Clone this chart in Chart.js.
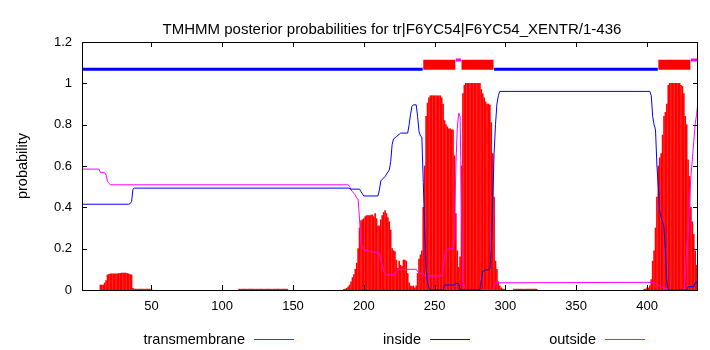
<!DOCTYPE html>
<html>
<head>
<meta charset="utf-8">
<script src="https://cdn.jsdelivr.net/npm/chart.js@4.4.0/dist/chart.umd.min.js"></script>
<style>
  body { margin: 0; background: #fff; }
  #wrap { width: 710px; height: 350px; }
</style>
</head>
<body>
<div id="wrap"><canvas id="tmhmm" width="710" height="350"></canvas></div>
<script>
const seqLength = 436;
const xTicks = [50, 100, 150, 200, 250, 300, 350, 400];
const yTicks = [0, 0.2, 0.4, 0.6, 0.8, 1, 1.2];
const chartTitle = 'TMHMM posterior probabilities for tr|F6YC54|F6YC54_XENTR/1-436';
const seriesNames = ['transmembrane', 'inside', 'outside'];

// transmembrane : [premier residu, valeurs par residu]
const tmRuns = [
  [14, [0.024, 0.024, 0.024, 0.034, 0.045, 0.073, 0.076, 0.078, 0.078, 0.078, 0.078, 0.078, 0.078, 0.08,
        0.08, 0.082, 0.082, 0.082, 0.082, 0.08, 0.078, 0.075, 0.073, 0.008]],
  [38, [0.004, 0.004, 0.004, 0.004, 0.004, 0.004, 0.004, 0.004, 0.004, 0.004, 0.004, 0.004, 0.004]],
  [112, [0.004, 0.004, 0.004, 0.004, 0.004, 0.004, 0.004, 0.004, 0.004, 0.004, 0.004, 0.004,
         0.004, 0.004, 0.004, 0.004, 0.004, 0.004, 0.004, 0.004, 0.004, 0.004, 0.004, 0.004,
         0.004, 0.004, 0.004, 0.004, 0.004, 0.004, 0.004, 0.004, 0.004, 0.004, 0.004]],
  [186, [0.003, 0.005, 0.008, 0.015, 0.024, 0.04, 0.06, 0.075, 0.1, 0.13,
         0.2, 0.3, 0.335, 0.34, 0.345, 0.355, 0.36, 0.36, 0.36, 0.362,
         0.363, 0.355, 0.37, 0.345, 0.31, 0.31, 0.34, 0.36, 0.375, 0.384,
         0.37, 0.35, 0.33, 0.29, 0.2, 0.19, 0.186, 0.145, 0.105, 0.14,
         0.12, 0.113, 0.145, 0.145, 0.14, 0.08, 0.035, 0.02, 0.016, 0.02,
         0.01, 0.02, 0.08, 0.15, 0.17, 0.19, 0.4, 0.6, 0.84, 0.905,
         0.93, 0.94, 0.94, 0.94, 0.94, 0.94, 0.94, 0.94, 0.94, 0.93,
         0.9, 0.82, 0.8, 0.79, 0.78, 0.78, 0.775, 0.775, 0.65, 0.37,
         0.19, 0.11, 0.16, 0.6, 0.95, 0.99, 1, 1, 1, 1,
         1, 1, 1, 1, 1, 1, 1, 0.97, 0.95, 0.93,
         0.91, 0.9, 0.9, 0.895, 0.81, 0.66, 0.45, 0.14, 0.1, 0.04,
         0.02, 0.01, 0.005, 0.003]],
  [306, [0.004, 0.004, 0.004, 0.004, 0.004, 0.004, 0.004, 0.004, 0.004, 0.004, 0.004, 0.004,
         0.004, 0.004, 0.004, 0.004, 0.004]],
  [398, [0.004, 0.004, 0.01, 0.01, 0.02, 0.05, 0.14, 0.19, 0.3, 0.45,
         0.6, 0.64, 0.66, 0.75, 0.84, 0.86, 0.9, 0.99, 1, 1,
         1, 1, 1, 1, 1, 1, 0.99, 0.985, 0.95, 0.84,
         0.8, 0.63, 0.55, 0.4, 0.33, 0.27, 0.19, 0.12, 0.08]]
];

// inside : [residu, probabilite]
const insideProb = [
  [1, 0.415], [34, 0.415], [35, 0.418], [36, 0.428], [37, 0.488], [38, 0.493], [189, 0.493],
  [191, 0.488], [197, 0.488], [198, 0.476], [200, 0.455], [210, 0.455], [211, 0.484], [212, 0.528],
  [215, 0.549], [218, 0.581], [219, 0.622], [220, 0.703], [221, 0.731], [223, 0.742], [226, 0.759],
  [231, 0.759], [232, 0.8], [233, 0.85], [234, 0.888], [235, 0.896], [237, 0.896], [238, 0.84],
  [239, 0.767], [240, 0.745], [241, 0.74], [242, 0.52], [243, 0.3], [244, 0.1], [245, 0.035],
  [246, 0.01], [247, 0], [256, 0], [257, 0.024], [264, 0.024], [265, 0.032], [267, 0.032],
  [268, 0], [282, 0], [283, 0.048], [284, 0.089], [286, 0.097], [289, 0.1], [290, 0.194],
  [291, 0.42], [292, 0.66], [293, 0.8], [294, 0.9], [295, 0.94], [296, 0.961], [402, 0.961],
  [403, 0.94], [404, 0.84], [405, 0.8], [406, 0.775], [407, 0.6], [408, 0.5], [409, 0.38],
  [410, 0.35], [411, 0.33], [412, 0.3], [413, 0.19], [414, 0.04], [415, 0], [428, 0],
  [429, 0.016], [433, 0.016], [434, 0.034], [436, 0.04]
];

// outside : [residu, probabilite]
const outsideProb = [
  [1, 0.585], [13, 0.585], [14, 0.568], [17, 0.568], [18, 0.557], [19, 0.525], [20, 0.517],
  [21, 0.509], [189, 0.509], [190, 0.5], [191, 0.485], [192, 0.476], [193, 0.468], [194, 0.46],
  [195, 0.444], [196, 0.44], [197, 0.339], [198, 0.226], [199, 0.21], [200, 0.194], [205, 0.186],
  [211, 0.178], [212, 0.145], [213, 0.12], [214, 0.09], [215, 0.081], [216, 0.073], [222, 0.073],
  [223, 0.085], [224, 0.1], [237, 0.1], [238, 0.089], [240, 0.081], [242, 0.078], [243, 0.068],
  [255, 0.068], [256, 0.097], [257, 0.161], [258, 0.186], [260, 0.2], [263, 0.2], [264, 0.25],
  [265, 0.6], [266, 0.78], [267, 0.856], [268, 0.84], [269, 0.4], [270, 0.05], [271, 0.01],
  [272, 0], [291, 0], [292, 0.019], [293, 0.035], [404, 0.037], [406, 0.03], [408, 0.024],
  [410, 0.016], [413, 0.008], [415, 0], [426, 0], [427, 0.06], [428, 0.2], [429, 0.26],
  [430, 0.42], [431, 0.55], [432, 0.63], [433, 0.72], [434, 0.8], [435, 0.85], [436, 0.91]
];

// topologie predite (debut, fin)
const topoInside = [[1, 241], [292, 407]];
const topoTM = [[242, 264], [269, 291], [408, 430]];
const topoOutside = [[265, 268], [431, 436]];

const RED = '#ff0000', BLUE = '#0000ff', MAGENTA = '#ff00ff';
const FONT = '"Liberation Sans", Arial, sans-serif';

// barres transmembranaires
const tmPoints = [];
tmRuns.forEach(function(run) {
    run[1].forEach(function(v, i) {
        tmPoints.push({ x: run[0] + i, y: v });
    });
});

function pairs(list) {
    return list.map(p => ({ x: p[0], y: p[1] }));
}

// segments de topologie, separes par des trous
function segments(list, level) {
    const out = [];
    list.forEach(function(s) {
        out.push({ x: s[0], y: level });
        out.push({ x: s[1] + 0.6, y: level });
        out.push({ x: s[1] + 0.6, y: null });
    });
    return out;
}

function topoSet(list, level, color, width) {
    return {
        type: 'line',
        data: segments(list, level),
        borderColor: color,
        borderWidth: width,
        borderCapStyle: 'butt',
        pointRadius: 0,
        spanGaps: false,
        order: 0
    };
}

const gnuplotDeco = {
    id: 'gnuplotDeco',
    afterDraw(chart) {
        const ctx = chart.ctx;
        const a = chart.chartArea;
        const x = chart.scales.x, y = chart.scales.y;
        ctx.save();
        ctx.strokeStyle = '#000';
        ctx.lineWidth = 1;
        ctx.beginPath();
        xTicks.forEach(function(v) {
            const px = Math.round(x.getPixelForValue(v)) + 0.5;
            ctx.moveTo(px, a.bottom); ctx.lineTo(px, a.bottom - 5);
            ctx.moveTo(px, a.top); ctx.lineTo(px, a.top + 5);
        });
        yTicks.forEach(function(v) {
            const py = Math.round(y.getPixelForValue(v)) + 0.5;
            ctx.moveTo(a.left, py); ctx.lineTo(a.left + 5, py);
            ctx.moveTo(a.right, py); ctx.lineTo(a.right - 5, py);
        });
        ctx.stroke();
        ctx.strokeRect(a.left + 0.5, a.top + 0.5, a.right - a.left - 1, a.bottom - a.top);

        ctx.fillStyle = '#000';
        // titre
        ctx.font = '15px ' + FONT;
        ctx.textAlign = 'center';
        ctx.textBaseline = 'alphabetic';
        ctx.fillText(chartTitle, 392, 34);
        // titre de l'axe y
        ctx.font = '14.5px ' + FONT;
        ctx.save();
        ctx.translate(23, 166);
        ctx.rotate(-Math.PI / 2);
        ctx.textBaseline = 'middle';
        ctx.fillText('probability', 0, 0);
        ctx.restore();
        // legende
        const legendX = [245, 421, 596];
        const colors = [RED, BLUE, MAGENTA];
        ctx.textAlign = 'right';
        ctx.textBaseline = 'middle';
        seriesNames.forEach(function(name, i) {
            ctx.fillStyle = '#000';
            ctx.fillText(name, legendX[i], 340);
            ctx.strokeStyle = colors[i];
            ctx.beginPath();
            ctx.moveTo(legendX[i] + 9, 339.5);
            ctx.lineTo(legendX[i] + 49, 339.5);
            ctx.stroke();
        });
        ctx.restore();
    }
};

const chart = new Chart(document.getElementById('tmhmm').getContext('2d'), {
    type: 'bar',
    data: {
        datasets: [
            topoSet(topoInside, 1.068, BLUE, 3),
            topoSet(topoTM, 1.09, RED, 10),
            topoSet(topoOutside, 1.113, MAGENTA, 3),
            {
                type: 'line',
                label: seriesNames[1],
                data: pairs(insideProb),
                borderColor: BLUE,
                borderWidth: 1,
                pointRadius: 0,
                order: 1
            },
            {
                type: 'line',
                label: seriesNames[2],
                data: pairs(outsideProb),
                borderColor: MAGENTA,
                borderWidth: 1,
                pointRadius: 0,
                order: 1
            },
            {
                type: 'bar',
                label: seriesNames[0],
                data: tmPoints,
                backgroundColor: RED,
                barThickness: 1,
                order: 2
            }
        ]
    },
    options: {
        responsive: false,
        animation: false,
        layout: { padding: { left: 0, right: 12, top: 42, bottom: 0 } },
        plugins: { legend: { display: false }, tooltip: { enabled: false } },
        scales: {
            x: {
                type: 'linear',
                min: 1,
                max: seqLength,
                offset: false,
                grid: { display: false, drawTicks: false },
                border: { display: false },
                afterBuildTicks: s => { s.ticks = xTicks.map(v => ({ value: v })); },
                afterFit: s => { s.height = 60; },
                ticks: { color: '#000', font: { family: FONT, size: 13 }, padding: 9, maxRotation: 0 }
            },
            y: {
                min: 0,
                max: 1.2,
                grid: { display: false, drawTicks: false },
                border: { display: false },
                afterBuildTicks: s => { s.ticks = yTicks.map(v => ({ value: v })); },
                afterFit: s => { s.width = 82; },
                ticks: {
                    color: '#000',
                    font: { family: FONT, size: 13 },
                    padding: 10,
                    callback: v => String(v)
                }
            }
        }
    },
    plugins: [gnuplotDeco]
});
</script>
</body>
</html>
